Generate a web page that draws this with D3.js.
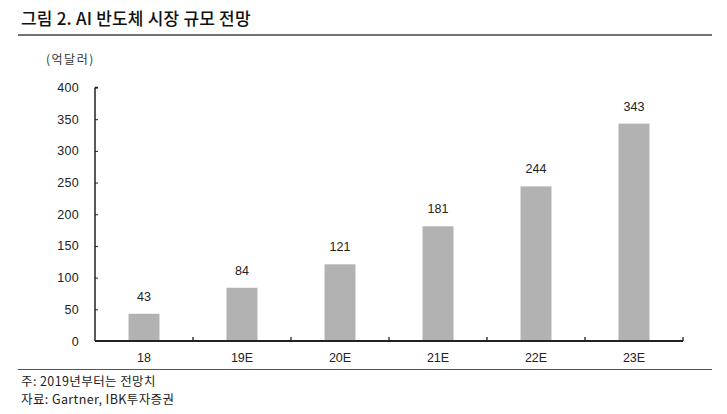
<!DOCTYPE html>
<html><head><meta charset="utf-8">
<script src="https://cdn.jsdelivr.net/npm/d3@7"></script>
<style>
body{margin:0;background:#fff;}
svg{display:block;font-family:"Liberation Sans","Noto Sans CJK KR",sans-serif;}
</style></head>
<body>
<svg id="c" width="727" height="414"></svg>
<script>
const categories = ["18","19E","20E","21E","22E","23E"];
const values = [43,84,121,181,244,343];
const yTicks = [0,50,100,150,200,250,300,350,400];

const svg = d3.select("#c");
const m = {left:95, right:683, top:87.5, bottom:341};

// title
svg.append("text").attr("x",21).attr("y",25)
  .attr("font-family","'Noto Sans CJK KR',sans-serif").attr("font-weight",500)
  .attr("font-size",17).attr("letter-spacing",0.2).attr("fill","#111").text("그림 2. AI 반도체 시장 규모 전망");
svg.append("line").attr("x1",18).attr("x2",712).attr("y1",35).attr("y2",35)
  .attr("stroke","#444").attr("stroke-width",1.3);

svg.append("text").attr("x",46).attr("y",64)
  .attr("font-family","'Noto Sans CJK KR',sans-serif")
  .attr("font-size",12).attr("letter-spacing",1.5).attr("fill","#333").text("(억달러)");

const x = d3.scaleBand().domain(categories).range([m.left,m.right]).paddingInner(0.684).paddingOuter(0.342);
const xb = d3.scaleBand().domain(categories).range([m.left,m.right]);
const y = d3.scaleLinear().domain([0,400]).range([m.bottom,m.top]);

// bars
svg.selectAll("rect.bar").data(values).enter().append("rect")
  .attr("x",(d,i)=>x(categories[i])).attr("width",x.bandwidth())
  .attr("y",d=>y(d)).attr("height",d=>y(0)-y(d)).attr("fill","#b2b2b2");

svg.selectAll("text.val").data(values).enter().append("text")
  .attr("x",(d,i)=>x(categories[i])+x.bandwidth()/2).attr("y",d=>y(d)-13)
  .attr("text-anchor","middle").attr("font-size",12.5).attr("fill","#222").text(d=>d);

// y axis
const yAxis = d3.axisRight(y).tickValues(yTicks).tickSize(3).tickFormat("");
const gy = svg.append("g").attr("transform",`translate(${m.left},0)`).call(yAxis);
gy.select(".domain").remove();
gy.selectAll(".tick line").attr("stroke","#222");
svg.append("line").attr("x1",m.left).attr("x2",m.left).attr("y1",m.top).attr("y2",m.bottom)
  .attr("stroke","#222").attr("stroke-width",1.5);
svg.append("line").attr("x1",m.left).attr("x2",m.left+3).attr("y1",m.top).attr("y2",m.top)
  .attr("stroke","#222").attr("stroke-width",1.5);
svg.selectAll("text.yl").data(yTicks).enter().append("text")
  .attr("x",79).attr("y",d=>y(d)+4.5).attr("text-anchor","end")
  .attr("font-size",12.5).attr("letter-spacing",0.3).attr("fill","#222").text(d=>d);

// x axis
svg.append("line").attr("x1",m.left).attr("x2",m.right).attr("y1",m.bottom).attr("y2",m.bottom)
  .attr("stroke","#222").attr("stroke-width",1.8);
const bounds = categories.map(c=>xb(c)).concat([m.right]).slice(1);
svg.selectAll("line.xt").data(bounds).enter().append("line")
  .attr("x1",d=>d).attr("x2",d=>d).attr("y1",m.bottom).attr("y2",m.bottom-4)
  .attr("stroke","#222").attr("stroke-width",1.3);
svg.selectAll("text.xl").data(categories).enter().append("text")
  .attr("x",d=>xb(d)+xb.bandwidth()/2).attr("y",362).attr("text-anchor","middle")
  .attr("font-size",12.5).attr("fill","#222").text(d=>d);

svg.append("line").attr("x1",18).attr("x2",712).attr("y1",369.5).attr("y2",369.5)
  .attr("stroke","#555").attr("stroke-width",1);

// notes
const noteFont = "'Noto Sans CJK KR',sans-serif";
svg.append("text").attr("x",21).attr("y",386).attr("font-family",noteFont)
  .attr("font-size",12.5).attr("letter-spacing",0.4).attr("fill","#222").text("주: 2019년부터는 전망치");
svg.append("text").attr("x",21).attr("y",404).attr("font-family",noteFont)
  .attr("font-size",12.5).attr("letter-spacing",0.4).attr("fill","#222").text("자료: Gartner, IBK투자증권");
</script>
</body></html>
